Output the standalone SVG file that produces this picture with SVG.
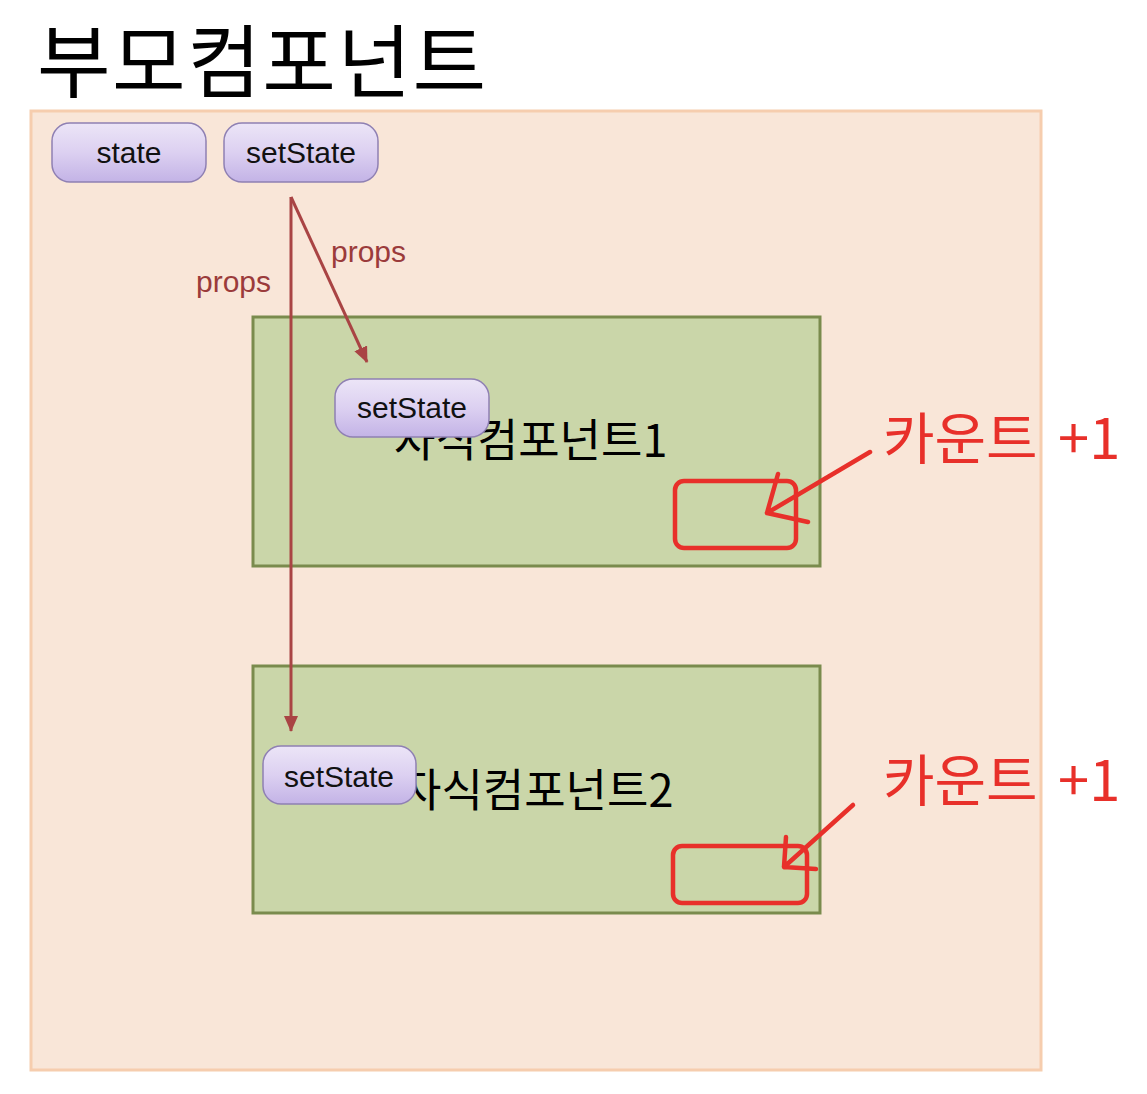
<svg xmlns="http://www.w3.org/2000/svg" width="1147" height="1094" viewBox="0 0 1147 1094">
  <defs>
    <linearGradient id="pill" x1="0" y1="0" x2="0" y2="1">
      <stop offset="0" stop-color="#ece5f7"/>
      <stop offset="0.5" stop-color="#dcd0f1"/>
      <stop offset="1" stop-color="#c3b3e6"/>
    </linearGradient>
    <marker id="ah" markerWidth="16" markerHeight="14" refX="15" refY="7" orient="auto" markerUnits="userSpaceOnUse">
      <path d="M0,0 L16,7 L0,14 z" fill="#a94444"/>
    </marker>
    <style>
      .pill rect { fill: url(#pill); stroke: #8f80b3; stroke-width: 1.5; }
      .pill text { font-family: "Liberation Sans", Arial, sans-serif; font-size: 30px; fill: #111; text-anchor: middle; }
      .child rect { fill: #cad6a9; stroke: #7a8b4d; stroke-width: 3; }
      .child text { font-family: "Noto Sans CJK KR", "Liberation Sans", sans-serif; font-size: 45px; fill: #000; }
      .conn { stroke: #a94444; stroke-width: 3; fill: none; marker-end: url(#ah); }
      .lbl { font-family: "Liberation Sans", Arial, sans-serif; font-size: 30px; fill: #9b3b3b; }
      .red { stroke: #e8302a; stroke-width: 4.5; fill: none; stroke-linecap: round; stroke-linejoin: round; }
      .redtxt { font-family: "Noto Sans CJK KR", "Liberation Sans", sans-serif; font-size: 56px; fill: #e8302a; word-spacing: 8px; }
    </style>
  </defs>
  <rect width="1147" height="1094" fill="#ffffff"/>

  <g id="parent">
    <rect x="31" y="111" width="1010" height="959" fill="#f9e6d8" stroke="#f6cdae" stroke-width="3"/>
    <text x="37" y="91" font-family="Noto Sans CJK KR, Liberation Sans, sans-serif" font-size="80" letter-spacing="1.5" fill="#000">부모컴포넌트</text>
  </g>

  <g id="child1" class="child">
    <rect x="253" y="317" width="567" height="249"/>
    <text x="394" y="457">자식컴포넌트1</text>
  </g>

  <g id="child2" class="child">
    <rect x="253" y="666" width="567" height="247"/>
    <text x="400" y="807">자식컴포넌트2</text>
  </g>

  <g id="state" class="pill">
    <rect x="52" y="123" width="154" height="59" rx="18"/>
    <text x="129" y="163">state</text>
  </g>

  <g id="setState" class="pill">
    <rect x="224" y="123" width="154" height="59" rx="18"/>
    <text x="301" y="163">setState</text>
  </g>

  <g id="connectors">
    <line class="conn" x1="291" y1="197" x2="291" y2="731"/>
    <line class="conn" x1="291" y1="197" x2="367" y2="362"/>
    <text class="lbl" x="331" y="262">props</text>
    <text class="lbl" x="196" y="292">props</text>
  </g>

  <g id="child1-setState" class="pill">
    <rect x="335" y="379" width="154" height="58" rx="18"/>
    <text x="412" y="418">setState</text>
  </g>

  <g id="child2-setState" class="pill">
    <rect x="263" y="746" width="153" height="58" rx="18"/>
    <text x="339" y="787">setState</text>
  </g>

  <g id="annotation1">
    <rect class="red" x="675" y="481" width="121" height="67" rx="9"/>
    <path class="red" d="M870,452 L767,513 M778,474 L767,513 L808,522"/>
    <text class="redtxt" x="883" y="459">카운트 +1</text>
  </g>

  <g id="annotation2">
    <rect class="red" x="673" y="846" width="134" height="57" rx="9"/>
    <path class="red" d="M853,805 L784,867 M786,837 L784,867 L816,869"/>
    <text class="redtxt" x="883" y="801">카운트 +1</text>
  </g>
</svg>
